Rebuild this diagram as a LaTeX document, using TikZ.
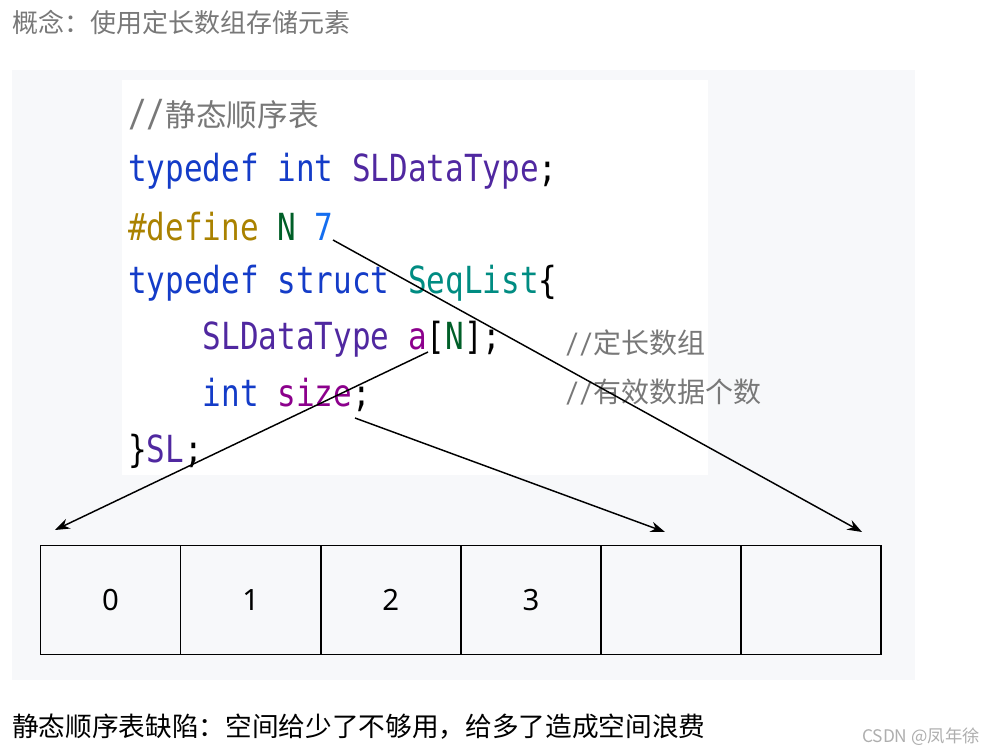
\documentclass[tikz,border=0pt]{standalone}
\usepackage{fontspec}
\setmainfont{Noto Sans}
\newfontfamily\cjk{Noto Sans CJK SC}
\newfontfamily\codefont[FakeStretch=0.83]{DejaVu Sans Mono}
\usetikzlibrary{arrows.meta,positioning}
\definecolor{mypanel}{RGB}{247,248,250}
\definecolor{mygray}{RGB}{120,120,120}
\definecolor{mykw}{RGB}{20,60,200}
\definecolor{mytype}{RGB}{80,40,160}
\definecolor{mymacro}{RGB}{170,130,0}
\definecolor{mygreen}{RGB}{0,95,40}
\definecolor{myblue}{RGB}{20,110,240}
\definecolor{myteal}{RGB}{0,140,130}
\definecolor{mypurple}{RGB}{140,0,140}
\begin{document}
\begin{tikzpicture}[
  x=0.75pt, y=-0.75pt,
  codeline/.style={anchor=west, inner sep=0pt, font=\codefont\fontsize{28}{30}\selectfont},
  comment/.style={anchor=west, inner sep=0pt, text=mygray, font=\cjk\fontsize{21}{24}\selectfont},
  cell/.style={draw, line width=1.2pt, minimum width=140.1*0.75pt, minimum height=109*0.75pt,
    inner sep=0pt, font=\fontsize{22}{24}\selectfont},
  myarrow/.style={line width=1.1pt, -{Stealth[length=11pt,width=8pt]}}
]
\useasboundingbox (0,0) rectangle (984,755);
\fill[mypanel] (12,70) rectangle (915,680);
\fill[white] (122,80) rectangle (708,475);

\node[anchor=west, inner sep=0pt, text=mygray, font=\cjk\fontsize{19.5}{22}\selectfont] (concept) at (12,22) {概念：使用定长数组存储元素};

% code
\node[codeline, text=mygray] (line1) at (128,115) {//{\cjk\fontsize{23}{26}\selectfont 静态顺序表}};
\node[codeline] (line2) at (128,171) {\color{mykw}typedef int \color{mytype}SLDataType\color{black};};
\node[codeline] (line3) at (128,227) {\color{mymacro}\#define \color{mygreen}N \color{myblue}7};
\node[codeline] (line4) at (128,283) {\color{mykw}typedef struct \color{myteal}SeqList\color{black}\{};
\node[codeline] (line5) at (128,339) {\color{white}xxxx\color{mytype}SLDataType \color{mypurple}a\color{black}[\color{mygreen}N\color{black}];};
\node[codeline] (line6) at (128,395) {\color{white}xxxx\color{mykw}int \color{mypurple}size\color{black};};
\node[codeline] (line7) at (128,451) {\}\color{mytype}SL\color{black};};
\node[comment] (note1) at (565,343) {{\codefont //}定长数组};
\node[comment] (note2) at (565,392) {{\codefont //}有效数据个数};

% array
\node[cell] (c0) at (110.6,600) {0};
\foreach \i [count=\j from 0] in {1,...,5}
  \node[cell, right=-1.2pt of c\j] (c\i) {\ifnum\i<4 \i\fi};

\coordinate (pa) at (428,352);
\coordinate (psize) at (355,418);
\coordinate (pn) at (333,240);
\coordinate (ea) at (55,530);
\coordinate (esize) at (665,532);
\coordinate (en) at (862,532);
\draw[myarrow] (pa) -- (ea);
\draw[myarrow] (psize) -- (esize);
\draw[myarrow] (pn) -- (en);

\node[anchor=west, inner sep=0pt, font=\cjk\fontsize{20}{22}\selectfont] (flaw) at (12,727) {静态顺序表缺陷：空间给少了不够用，给多了造成空间浪费};
\node[anchor=east, inner sep=0pt, text=mygray!60, font=\cjk\fontsize{13}{16}\selectfont] (mark) at (980,737) {CSDN @凤年徐};
\end{tikzpicture}
\end{document}
